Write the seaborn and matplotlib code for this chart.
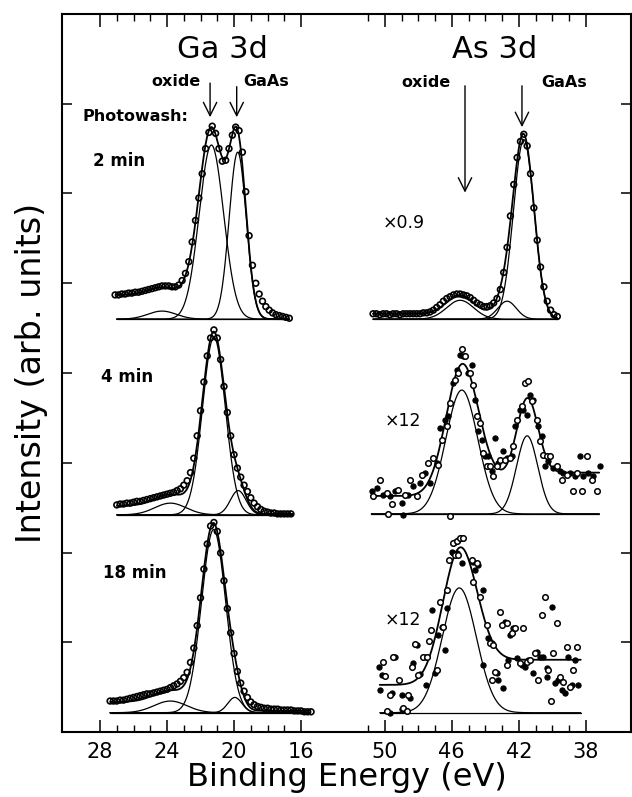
import numpy as np
import pandas as pd
import matplotlib
matplotlib.use("Agg")
import matplotlib.pyplot as plt
import seaborn as sns

# ------------------------------------------------------------------ data
# Ga 3d, photowash 2 min (binding energy eV, intensity arb. units)
ga2_E = [27.1, 26.9, 26.7, 26.5, 26.3, 26.1, 25.9, 25.7, 25.5, 25.3, 25.1, 24.9, 24.7, 24.5,
         24.3, 24.1, 23.9, 23.7, 23.5, 23.3, 23.1, 22.9, 22.7, 22.5, 22.3, 22.1, 21.9, 21.7,
         21.5, 21.3, 21.1, 20.9, 20.7, 20.5, 20.3, 20.1, 19.9, 19.7, 19.5, 19.3, 19.1, 18.9,
         18.7, 18.5, 18.3, 18.1, 17.9, 17.7, 17.5, 17.3, 17.1, 16.9, 16.7]
ga2_I = [0.27, 0.27, 0.28, 0.28, 0.29, 0.29, 0.30, 0.30, 0.31, 0.32, 0.33, 0.34, 0.35, 0.36,
         0.37, 0.37, 0.37, 0.36, 0.36, 0.38, 0.43, 0.51, 0.64, 0.86, 1.10, 1.35, 1.62, 1.90,
         2.08, 2.15, 2.07, 1.90, 1.76, 1.77, 1.90, 2.05, 2.14, 2.10, 1.86, 1.42, 0.93, 0.60,
         0.40, 0.28, 0.20, 0.14, 0.10, 0.07, 0.05, 0.04, 0.03, 0.02, 0.01]
# Ga 3d, 4 min
ga4_E = [27.0, 26.8, 26.6, 26.4, 26.2, 26.0, 25.8, 25.6, 25.4, 25.2, 25.0, 24.8, 24.6, 24.4,
         24.2, 24.0, 23.8, 23.6, 23.4, 23.2, 23.0, 22.8, 22.6, 22.4, 22.2, 22.0, 21.8, 21.6,
         21.4, 21.2, 21.0, 20.8, 20.6, 20.4, 20.2, 20.0, 19.8, 19.6, 19.4, 19.2, 19.0, 18.8,
         18.6, 18.4, 18.2, 18.0, 17.8, 17.6, 17.4, 17.2, 17.0, 16.8, 16.6]
ga4_I = [0.11, 0.12, 0.12, 0.13, 0.13, 0.14, 0.15, 0.15, 0.16, 0.17, 0.18, 0.19, 0.20, 0.21,
         0.22, 0.23, 0.24, 0.25, 0.27, 0.29, 0.33, 0.38, 0.47, 0.63, 0.88, 1.16, 1.48, 1.77,
         1.97, 2.06, 1.97, 1.73, 1.43, 1.14, 0.88, 0.67, 0.52, 0.42, 0.33, 0.26, 0.19, 0.13,
         0.09, 0.06, 0.04, 0.03, 0.02, 0.02, 0.01, 0.01, 0.01, 0.01, 0.01]
# Ga 3d, 18 min
ga18_E = [27.4, 27.2, 27.0, 26.8, 26.6, 26.4, 26.2, 26.0, 25.8, 25.6, 25.4, 25.2, 25.0, 24.8,
          24.6, 24.4, 24.2, 24.0, 23.8, 23.6, 23.4, 23.2, 23.0, 22.8, 22.6, 22.4, 22.2, 22.0,
          21.8, 21.6, 21.4, 21.2, 21.0, 20.8, 20.6, 20.4, 20.2, 20.0, 19.8, 19.6, 19.4, 19.2,
          19.0, 18.8, 18.6, 18.4, 18.2, 18.0, 17.8, 17.6, 17.4, 17.2, 17.0, 16.8, 16.6, 16.4,
          16.2, 16.0, 15.8, 15.6, 15.4]
ga18_I = [0.13, 0.13, 0.13, 0.14, 0.14, 0.15, 0.16, 0.17, 0.18, 0.19, 0.20, 0.21, 0.21, 0.22,
          0.23, 0.24, 0.25, 0.26, 0.28, 0.30, 0.32, 0.35, 0.39, 0.45, 0.56, 0.72, 0.97, 1.28,
          1.60, 1.88, 2.08, 2.12, 2.02, 1.78, 1.47, 1.16, 0.89, 0.66, 0.46, 0.33, 0.24, 0.17,
          0.12, 0.09, 0.07, 0.06, 0.05, 0.05, 0.04, 0.04, 0.04, 0.03, 0.03, 0.03, 0.03, 0.02,
          0.02, 0.02, 0.01, 0.01, 0.01]
# As 3d, 2 min (x0.9)
as2_E = [50.7, 50.5, 50.3, 50.1, 49.9, 49.7, 49.5, 49.3, 49.1, 48.9, 48.7, 48.5, 48.3, 48.1,
         47.9, 47.7, 47.5, 47.3, 47.1, 46.9, 46.7, 46.5, 46.3, 46.1, 45.9, 45.7, 45.5, 45.3,
         45.1, 44.9, 44.7, 44.5, 44.3, 44.1, 43.9, 43.7, 43.5, 43.3, 43.1, 42.9, 42.7, 42.5,
         42.3, 42.1, 41.9, 41.7, 41.5, 41.3, 41.1, 40.9, 40.7, 40.5, 40.3, 40.1, 39.9, 39.7]
as2_I = [0.06, 0.06, 0.05, 0.06, 0.06, 0.05, 0.06, 0.06, 0.05, 0.06, 0.06, 0.06, 0.06, 0.06,
         0.06, 0.07, 0.07, 0.08, 0.10, 0.13, 0.16, 0.20, 0.23, 0.25, 0.27, 0.28, 0.28, 0.27,
         0.26, 0.24, 0.21, 0.18, 0.16, 0.14, 0.14, 0.15, 0.18, 0.23, 0.33, 0.52, 0.80, 1.15,
         1.50, 1.80, 1.98, 2.06, 1.93, 1.62, 1.24, 0.88, 0.58, 0.36, 0.20, 0.10, 0.05, 0.03]
# As 3d, 4 min (x12)
as4_E = [50.78, 50.68, 50.48, 50.28, 50.09, 49.89, 49.69, 49.59, 49.39, 49.19, 48.99, 48.79,
         48.59, 48.49, 48.29, 48.10, 47.90, 47.80, 47.60, 47.40, 47.30, 47.10, 46.90, 46.80,
         46.70, 46.60, 46.40, 46.30, 46.20, 46.10, 45.91, 45.81, 45.71, 45.61, 45.51, 45.41,
         45.31, 45.21, 45.01, 44.91, 44.81, 44.71, 44.61, 44.51, 44.41, 44.31, 44.21, 44.12,
         44.02, 43.92, 43.82, 43.72, 43.62, 43.52, 43.42, 43.32, 43.22, 43.12, 42.92, 42.82,
         42.72, 42.52, 42.42, 42.32, 42.22, 42.12, 41.93, 41.83, 41.73, 41.63, 41.53, 41.43,
         41.33, 41.23, 41.13, 40.93, 40.83, 40.73, 40.63, 40.53, 40.43, 40.33, 40.23, 40.13,
         39.94, 39.74, 39.54, 39.44, 39.34, 39.14, 38.94, 38.74, 38.64, 38.54, 38.34, 38.24,
         38.14, 37.95, 37.85, 37.65, 37.55, 37.35, 37.15, 49.79, 48.89, 46.10]
as4_I = [0.25, 0.20, 0.29, 0.38, 0.215, 0.234, 0.196, 0.115, 0.252, 0.271, 0.122, 0.215,
         0.215, 0.382, 0.308, 0.196, 0.345, 0.438, 0.456, 0.568, 0.345, 0.624, 0.568, 0.549,
         0.958, 0.828, 1.051, 0.976, 1.088, 1.236, 1.459, 1.496, 1.608, 1.571, 1.775, 1.838,
         1.756, 1.756, 1.571, 1.571, 1.663, 1.441, 1.273, 1.088, 0.921, 1.013, 0.828, 0.679,
         0.642, 0.531, 0.642, 0.531, 0.475, 0.419, 0.846, 0.531, 0.568, 0.605, 0.698, 0.605,
         0.624, 0.624, 0.642, 0.753, 0.976, 1.051, 1.162, 1.199, 1.162, 1.459, 1.106, 1.478,
         1.329, 1.255, 1.273, 1.051, 0.976, 0.809, 0.865, 0.661, 0.531, 0.642, 0.586, 0.642,
         0.512, 0.531, 0.475, 0.382, 0.456, 0.438, 0.456, 0.252, 0.419, 0.456, 0.642, 0.252,
         0.419, 0.642, 0.456, 0.382, 0.419, 0.252, 0.531, 0.0, -0.015, -0.026]
# As 3d, 18 min (x12)
as18_E = [50.32, 50.09, 50.18, 49.99, 50.28, 49.69, 49.59, 49.89, 49.69, 49.49, 49.39, 49.13,
          48.99, 48.89, 48.79, 48.69, 48.99, 48.59, 48.49, 48.39, 48.29, 48.19, 48.06, 48.00,
          47.90, 47.70, 47.54, 47.46, 47.54, 47.26, 47.20, 47.34, 47.00, 46.90, 46.80, 46.70,
          46.60, 46.50, 46.40, 46.30, 46.26, 46.14, 46.00, 45.91, 45.81, 45.71, 45.61, 45.51,
          45.41, 45.31, 45.91, 45.81, 45.71, 45.61, 45.41, 44.81, 44.71, 44.51, 44.41, 44.71,
          44.61, 44.31, 44.12, 43.92, 43.82, 43.72, 43.62, 43.52, 44.12, 43.42, 43.32, 43.62,
          43.22, 43.12, 42.92, 43.02, 42.82, 42.72, 42.52, 42.42, 42.32, 42.72, 42.62, 42.22,
          42.12, 41.93, 41.83, 41.73, 41.63, 41.53, 41.43, 41.33, 41.13, 41.03, 40.93, 40.83,
          40.73, 40.63, 40.53, 40.43, 40.33, 40.23, 40.04, 39.94, 39.84, 39.74, 39.64, 39.54,
          39.44, 39.34, 39.24, 39.14, 39.04, 38.94, 38.84, 38.74, 38.64, 38.54, 38.44, 40.09,
          40.33]
as18_I = [0.513, 0.568, 0.420, 0.409, 0.253, 0.197, 0.216, 0.023, 0.0, 0.624, 0.617, 0.364,
          0.037, 0.049, 0.030, 0.023, 0.197, 0.197, 0.160, 0.513, 0.550, 0.765, 0.754, 0.420,
          0.431, 0.624, 0.624, 0.617, 0.309, 0.921, 1.144, 0.803, 0.439, 0.476, 0.866, 1.237,
          0.958, 0.951, 0.699, 1.367, 1.163, 1.701, 1.794, 1.887, 1.906, 1.917, 1.924, 1.943,
          1.943, 1.943, 1.776, 1.757, 1.776, 1.757, 1.664, 1.701, 1.683, 1.664, 1.646, 1.460,
          1.590, 1.293, 1.367, 0.977, 0.829, 0.773, 0.773, 0.754, 0.531, 0.457, 0.439, 0.364,
          0.364, 1.126, 0.271, 0.977, 1.014, 0.996, 0.866, 0.884, 0.940, 0.531, 0.587, 0.940,
          0.606, 0.550, 0.531, 0.940, 0.513, 0.568, 0.587, 0.587, 0.439, 0.661, 0.680, 0.364,
          0.624, 1.088, 0.624, 1.293, 0.494, 0.476, 1.181, 0.661, 0.327, 0.996, 0.364, 0.401,
          0.253, 0.346, 0.216, 0.736, 0.624, 0.290, 0.309, 0.476, 0.587, 0.736, 0.309, 0.134,
          0.401]

# fitted components: centre (eV), height, FWHM (eV); background (high-BE side, low-BE side)
ga2_center, ga2_height, ga2_fwhm, ga2_bg = [24.3, 21.35, 19.78], [0.09, 1.94, 1.86], [2.0, 1.72, 1.2], (0.27, 0.0)
ga4_center, ga4_height, ga4_fwhm, ga4_bg = [23.8, 21.2, 19.75], [0.13, 1.98, 0.27], [2.2, 1.6, 1.1], (0.10, 0.01)
ga18_center, ga18_height, ga18_fwhm, ga18_bg = [23.8, 21.22, 19.95], [0.13, 2.04, 0.17], [2.3, 1.7, 1.0], (0.12, 0.02)
as2_center, as2_height, as2_fwhm, as2_bg = [45.5, 42.7, 41.7], [0.21, 0.20, 2.0], [1.9, 1.3, 1.45], (0.06, 0.0)
as4_center, as4_height, as4_fwhm, as4_bg = [45.4, 41.5], [1.38, 0.87], [2.25, 1.5], (0.20, 0.46)
as18_center, as18_height, as18_fwhm, as18_bg = [45.55], [1.39], [2.4], (0.31, 0.59)

# energy span of each fitted spectrum (high, low)
ga2_span, ga4_span, ga18_span = (27.0, 16.7), (27.0, 16.5), (27.4, 15.5)
as2_span, as4_span, as18_span = (50.7, 39.7), (50.8, 37.2), (50.3, 38.3)

tick_energies = [28, 24, 20, 16, 50, 46, 42, 38]
tick_labels = ["28", "24", "20", "16", "50", "46", "42", "38"]
times = ["2 min", "4 min", "18 min"]
as_scales = ["\u00d70.9", "\u00d712", "\u00d712"]

# ------------------------------------------------------------------ style
sns.set_theme(style="white")
plt.rcParams["font.family"] = ["DejaVu Sans"]
plt.rcParams["axes.linewidth"] = 1.5
plt.rcParams["text.color"] = "black"
plt.rcParams["axes.labelcolor"] = "black"
plt.rcParams["xtick.color"] = "black"
plt.rcParams["ytick.color"] = "black"

GA_ORIGIN, AS_ORIGIN = 28.0, 67.0   # broken energy axis: Ga 28..16 then As 50..38


def pos(E, core):
    return (GA_ORIGIN if core == "Ga" else AS_ORIGIN) - np.asarray(E, dtype=float)


def fit(E, centers, heights, fwhms, bg):
    comps = [h * np.exp(-4 * np.log(2) * (E - c) ** 2 / w ** 2)
             for c, h, w in zip(centers, heights, fwhms)]
    peaks = np.sum(comps, axis=0)
    order = np.argsort(E)
    cum = np.cumsum(peaks[order])
    cum = cum / cum[-1]
    S = np.empty_like(cum)
    S[order] = cum
    background = bg[1] + (bg[0] - bg[1]) * S
    return comps, peaks + background


fig = plt.figure(figsize=(6.32, 7.97), dpi=100)
ax = fig.add_axes([62 / 632, 1 - 732 / 797, 569 / 632, 718 / 797])

panels = [
    ("Ga", 4.60, ga2_E, ga2_I, ga2_center, ga2_height, ga2_fwhm, ga2_bg, ga2_span, "open"),
    ("Ga", 2.42, ga4_E, ga4_I, ga4_center, ga4_height, ga4_fwhm, ga4_bg, ga4_span, "open"),
    ("Ga", 0.215, ga18_E, ga18_I, ga18_center, ga18_height, ga18_fwhm, ga18_bg, ga18_span, "open"),
    ("As", 4.60, as2_E, as2_I, as2_center, as2_height, as2_fwhm, as2_bg, as2_span, "open"),
    ("As", 2.43, as4_E, as4_I, as4_center, as4_height, as4_fwhm, as4_bg, as4_span, "mixed"),
    ("As", 0.215, as18_E, as18_I, as18_center, as18_height, as18_fwhm, as18_bg, as18_span, "mixed"),
]

for core, off, E, I, cen, hei, fw, bg, span, mstyle in panels:
    grid = np.linspace(span[0], span[1], 500)
    comps, total = fit(grid, cen, hei, fw, bg)
    rows = []
    for k, c in enumerate(comps):
        rows.append(pd.DataFrame({"x": pos(grid, core), "y": c + off, "curve": k}))
    rows.append(pd.DataFrame({"x": pos([span[0], span[1]], core), "y": [off, off], "curve": 99}))
    df = pd.concat(rows, ignore_index=True)
    sns.lineplot(data=df, x="x", y="y", units="curve", estimator=None, color="black",
                 linewidth=0.9, ax=ax, legend=False)
    sns.lineplot(x=pos(grid, core), y=total + off, color="black", linewidth=1.3,
                 estimator=None, ax=ax, legend=False)
    px = pos(E, core)
    py = np.asarray(I) + off
    if mstyle == "open":
        sns.scatterplot(x=px, y=py, marker="o", s=17, facecolor="none",
                        edgecolor="black", linewidth=1.2, ax=ax, legend=False, zorder=3)
    else:
        sns.scatterplot(x=px[0::2], y=py[0::2], marker="o", s=14, color="black",
                        edgecolor="black", linewidth=0.8, ax=ax, legend=False, zorder=3)
        sns.scatterplot(x=px[1::2], y=py[1::2], marker="o", s=16, facecolor="white",
                        edgecolor="black", linewidth=1.1, ax=ax, legend=False, zorder=3)

# ------------------------------------------------------------------ axes
ax.set_xlim(-2.27, 31.70)
ax.set_ylim(0, 8)
ga_pos = pos(tick_energies[:4], "Ga")
as_pos = pos(tick_energies[4:], "As")
ax.set_xticks(list(ga_pos) + list(as_pos))
ax.set_xticklabels(tick_labels, fontsize=15)
minor = list(pos(np.arange(28, 15, -1), "Ga")) + list(pos(np.arange(51, 37, -1), "As"))
ax.set_xticks(minor, minor=True)
ax.tick_params(axis="x", which="major", direction="in", length=9, width=1.1,
               top=True, bottom=True, pad=7, colors="black")
ax.tick_params(axis="x", which="minor", direction="in", length=5, width=1.0,
               top=True, bottom=True)
ax.set_yticks(range(1, 8))
ax.tick_params(axis="y", which="major", direction="in", length=7, width=1.1,
               left=True, right=True, labelleft=False)
for s in ax.spines.values():
    s.set_color("black")
    s.set_linewidth(1.5)
ax.set_xlabel("Binding Energy (eV)", fontsize=23, labelpad=0, color="black")
ax.set_ylabel("Intensity (arb. units)", fontsize=24, labelpad=10, color="black")

# ------------------------------------------------------------------ annotations
ax.text(pos(20.72, "Ga"), 7.60, "Ga 3d", fontsize=22, ha="center", va="center", color="black")
ax.text(pos(43.42, "As"), 7.60, "As 3d", fontsize=22, ha="center", va="center", color="black")
bold = dict(fontsize=11.5, fontweight="bold", ha="center", va="center", color="black")
ax.text(pos(23.46, "Ga"), 7.25, "oxide", **bold)
ax.text(pos(18.07, "Ga"), 7.25, "GaAs", **bold)
ax.text(pos(47.56, "As"), 7.24, "oxide", **bold)
ax.text(pos(39.30, "As"), 7.24, "GaAs", **bold)
ax.text(pos(25.91, "Ga"), 6.86, "Photowash:", **bold)
for t, x, y in zip(times, [26.87, 26.41, 25.91], [6.36, 3.96, 1.77]):
    ax.text(pos(x, "Ga"), y, t, fontsize=12, fontweight="bold", ha="center", va="center",
            color="black")
for t, x, y in zip(as_scales, [48.85, 48.94, 48.9], [5.67, 3.46, 1.25]):
    ax.text(pos(x, "As"), y, t, fontsize=12.5, ha="center", va="center", color="black")

arrow = dict(arrowstyle="->,head_length=0.8,head_width=0.4", lw=1.0, color="black",
             shrinkA=0, shrinkB=0)
for core, E, y0, y1 in [("Ga", 21.43, 7.23, 6.85), ("Ga", 19.84, 7.19, 6.85),
                        ("As", 45.21, 7.20, 6.01), ("As", 41.81, 7.20, 6.74)]:
    ax.annotate("", xy=(pos(E, core), y1), xytext=(pos(E, core), y0), arrowprops=arrow)

fig.savefig("out.png", dpi=100)
